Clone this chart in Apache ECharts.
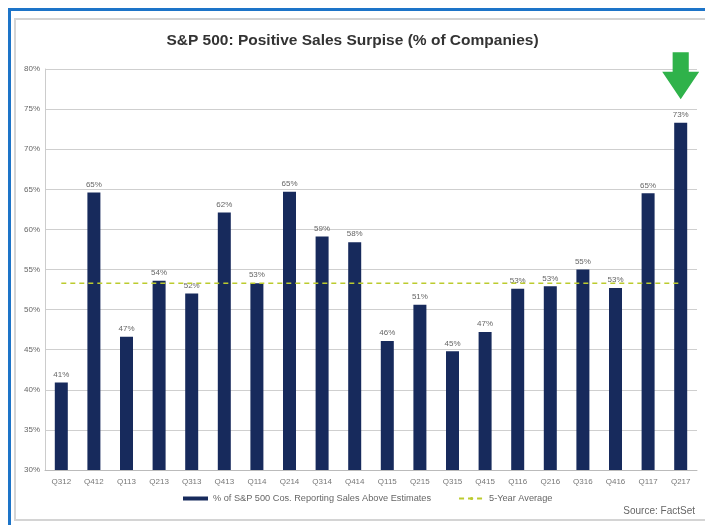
<!DOCTYPE html>
<html>
<head>
<meta charset="utf-8">
<script src="https://cdn.jsdelivr.net/npm/echarts@6/dist/echarts.min.js"></script>
<style>
html,body{margin:0;padding:0;background:#fff;}
#c{width:705px;height:525px;}
</style>
</head>
<body>
<div id="c"></div>
<script>
const categories = ['Q312','Q412','Q113','Q213','Q313','Q413','Q114','Q214','Q314','Q414','Q115','Q215','Q315','Q415','Q116','Q216','Q316','Q416','Q117','Q217'];
const salesSurprise = [40.9, 64.6, 46.6, 53.6, 52.0, 62.1, 53.3, 64.7, 59.1, 58.4, 46.1, 50.6, 44.8, 47.2, 52.6, 52.9, 55.0, 52.7, 64.5, 73.3];
const fiveYearAvg = [53.3, 53.3, 53.3, 53.3, 53.3, 53.3, 53.3, 53.3, 53.3, 53.3, 53.3, 53.3, 53.3, 53.3, 53.3, 53.3, 53.3, 53.3, 53.3, 53.3];
const yTicks = { min: 30, max: 80, interval: 5 };
const titleText = 'S&P 500: Positive Sales Surpise (% of Companies)';
const seriesNames = ['% of S&P 500 Cos. Reporting Sales Above Estimates', '5-Year Average'];
const sourceText = 'Source: FactSet';

const arrowPath = 'path://M8,0 L25,0 L25,20 L36,20 L16.5,48 L-3,20 L8,20 Z';

const chart = echarts.init(document.getElementById('c'), null, {renderer: 'canvas'});
const font = 'Liberation Sans, Arial, sans-serif';
chart.setOption({
  backgroundColor: '#fff',
  animation: false,
  title: {
    text: titleText,
    left: 'center',
    top: 28,
    textStyle: { fontFamily: font, fontSize: 15.5, fontWeight: 'bold', color: '#333' }
  },
  grid: { left: 45, right: 8, top: 69, bottom: 55 },
  legend: {
    bottom: 17,
    left: 178,
    itemGap: 27,
    itemWidth: 25,
    itemHeight: 4,
    textStyle: { fontFamily: font, fontSize: 9.2, color: '#666' },
    data: [
      { name: seriesNames[0], icon: 'rect' },
      { name: seriesNames[1] }
    ]
  },
  xAxis: {
    type: 'category',
    data: categories,
    boundaryGap: true,
    axisLine: { lineStyle: { color: '#bbb' } },
    axisTick: { show: false },
    axisLabel: { fontFamily: font, fontSize: 8, color: '#777', margin: 8, interval: 0 }
  },
  yAxis: {
    type: 'value',
    min: yTicks.min, max: yTicks.max, interval: yTicks.interval,
    axisLine: { show: true, lineStyle: { color: '#ccc' } },
    axisTick: { show: false },
    splitLine: { lineStyle: { color: '#cfcfcf', width: 1.2 } },
    axisLabel: { fontFamily: font, fontSize: 8, color: '#666', margin: 5, formatter: '{value}%' }
  },
  series: [
    {
      name: seriesNames[0],
      type: 'bar',
      data: salesSurprise,
      barWidth: 13,
      itemStyle: { color: '#172a5c' },
      label: {
        show: true, position: 'top', distance: 4,
        fontFamily: font, fontSize: 8, color: '#666',
        formatter: p => Math.round(p.value) + '%'
      },
      markPoint: {
        silent: true,
        symbol: arrowPath,
        symbolSize: [37, 47],
        symbolKeepAspect: false,
        symbolOffset: [0, -47],
        itemStyle: { color: '#2fb24a' },
        label: { show: false },
        data: [{ coord: [categories.length - 1, salesSurprise[salesSurprise.length - 1]] }]
      },
      z: 2
    },
    {
      name: seriesNames[1],
      type: 'line',
      data: fiveYearAvg,
      symbol: 'none',
      lineStyle: { color: '#bccb2e', width: 1.5, type: [5, 4] },
      itemStyle: { color: '#bccb2e' },
      z: 3
    }
  ],
  graphic: [
    { type: 'rect', shape: { x: 15, y: 19, width: 700, height: 501 }, style: { fill: 'none', stroke: '#d4d4d4', lineWidth: 2 }, silent: true, z: -1 },
    { type: 'rect', shape: { x: 8, y: 8, width: 697, height: 3 }, style: { fill: '#1d74c8' }, silent: true },
    { type: 'rect', shape: { x: 8, y: 8, width: 3, height: 517 }, style: { fill: '#1d74c8' }, silent: true },
    { type: 'text', right: 10, top: 506, style: { text: sourceText, font: '10px ' + font, fill: '#666' } }
  ]
});
</script>
</body>
</html>
